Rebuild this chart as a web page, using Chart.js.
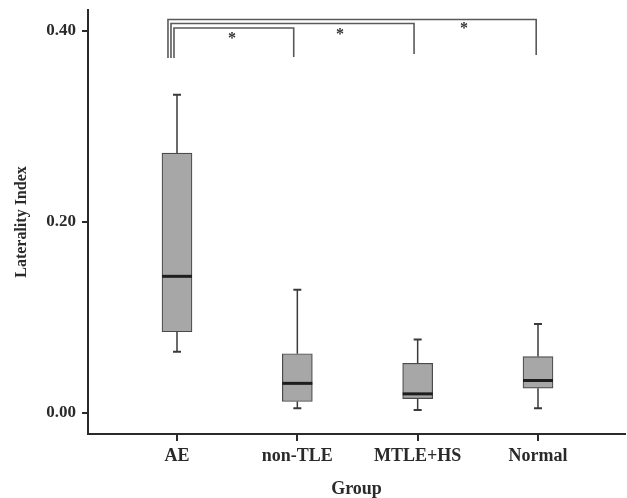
<!DOCTYPE html>
<html>
<head>
<meta charset="utf-8">
<script src="https://cdn.jsdelivr.net/npm/chart.js@4.4.0/dist/chart.umd.min.js"></script>
<style>
  body { margin: 0; background: #fff; }
  #wrap { width: 627px; height: 498px; }
</style>
</head>
<body>
<div id="wrap"><canvas id="myChart"></canvas></div>
<script>
const groups = ["AE", "non-TLE", "MTLE+HS", "Normal"];
const groupPos = [1, 2, 3, 4];
const mins = [0.064, 0.005, 0.003, 0.005];
const q1s = [0.085, 0.012, 0.015, 0.026];
const medians = [0.143, 0.031, 0.020, 0.034];
const q3s = [0.272, 0.062, 0.052, 0.059];
const maxs = [0.333, 0.129, 0.077, 0.093];
const yTicks = [0, 0.2, 0.4];

// significance brackets: AE vs each other group
const brFrom = [0.975, 0.95, 0.925];
const brTo = [1.97, 2.97, 3.985];
const brTop = [0.4028, 0.4075, 0.4117];
const brLeftEnd = [0.3714, 0.3714, 0.3714];
const brRightEnd = [0.3725, 0.3756, 0.3746];
const starX = [1.457, 2.355, 3.386];
const starY = [0.3945, 0.3986, 0.405];

const ink = "#2a2a2a";
const serif = "'Liberation Serif', 'Times New Roman', serif";

const boxPlugin = {
  id: "boxExtras",
  afterDatasetsDraw(chart) {
    const ctx = chart.ctx;
    const xs = chart.scales.x;
    const ys = chart.scales.y;
    ctx.save();
    groupPos.forEach((g, i) => {
      const cx = xs.getPixelForValue(g);
      const half = 15;
      // whiskers
      ctx.strokeStyle = "#3a3a3a";
      ctx.lineWidth = 1.5;
      ctx.beginPath();
      ctx.moveTo(cx, ys.getPixelForValue(q3s[i]));
      ctx.lineTo(cx, ys.getPixelForValue(maxs[i]));
      ctx.moveTo(cx, ys.getPixelForValue(q1s[i]));
      ctx.lineTo(cx, ys.getPixelForValue(mins[i]));
      ctx.stroke();
      ctx.lineWidth = 2;
      ctx.beginPath();
      ctx.moveTo(cx - 4, ys.getPixelForValue(maxs[i]));
      ctx.lineTo(cx + 4, ys.getPixelForValue(maxs[i]));
      ctx.moveTo(cx - 4, ys.getPixelForValue(mins[i]));
      ctx.lineTo(cx + 4, ys.getPixelForValue(mins[i]));
      ctx.stroke();
      // median
      ctx.strokeStyle = "#1e1e1e";
      ctx.lineWidth = 3;
      ctx.beginPath();
      ctx.moveTo(cx - half, ys.getPixelForValue(medians[i]));
      ctx.lineTo(cx + half, ys.getPixelForValue(medians[i]));
      ctx.stroke();
    });

    // brackets
    ctx.strokeStyle = "#5a5a5a";
    ctx.lineWidth = 1.6;
    brFrom.forEach((f, i) => {
      ctx.beginPath();
      ctx.moveTo(xs.getPixelForValue(f), ys.getPixelForValue(brLeftEnd[i]));
      ctx.lineTo(xs.getPixelForValue(f), ys.getPixelForValue(brTop[i]));
      ctx.lineTo(xs.getPixelForValue(brTo[i]), ys.getPixelForValue(brTop[i]));
      ctx.lineTo(xs.getPixelForValue(brTo[i]), ys.getPixelForValue(brRightEnd[i]));
      ctx.stroke();
    });
    ctx.fillStyle = "#333";
    ctx.font = "bold 16px " + serif;
    ctx.textAlign = "center";
    ctx.textBaseline = "middle";
    starX.forEach((sx, i) => {
      ctx.fillText("*", xs.getPixelForValue(sx), ys.getPixelForValue(starY[i]) + 3);
    });
    ctx.restore();
  }
};

new Chart("myChart", {
  type: "bar",
  data: {
    datasets: [{
      data: groupPos.map((g, i) => ({ x: g, y: [q1s[i], q3s[i]] })),
      backgroundColor: "#a7a7a7",
      borderColor: "#4a4a4a",
      borderWidth: 1.2,
      borderSkipped: false,
      barThickness: 30
    }]
  },
  options: {
    responsive: true,
    maintainAspectRatio: false,
    animation: false,
    layout: { padding: { top: 10, right: 2, left: 0, bottom: 0 } },
    plugins: { legend: { display: false }, tooltip: { enabled: false } },
    scales: {
      x: {
        type: "linear",
        offset: false,
        min: 0.2604,
        max: 4.723,
        afterBuildTicks: (s) => { s.ticks = groupPos.map(v => ({ value: v })); },
        afterFit: (s) => { s.height = 64; s.paddingLeft = 0; s.paddingRight = 0; },
        ticks: {
          callback: (v) => groups[groupPos.indexOf(v)] || "",
          color: ink,
          font: { family: serif, size: 18, weight: "bold" },
          padding: 5,
          maxRotation: 0,
          autoSkip: false
        },
        grid: { display: true, offset: false, drawOnChartArea: false, drawTicks: true, tickLength: 7, color: ink, lineWidth: 2 },
        border: { display: true, color: ink, width: 2 },
        title: {
          display: true,
          text: "Group",
          color: ink,
          font: { family: serif, size: 18, weight: "bold", lineHeight: 1 },
          padding: { top: 0, bottom: 0 }
        }
      },
      y: {
        min: -0.022,
        max: 0.4217,
        afterBuildTicks: (s) => { s.ticks = yTicks.map(v => ({ value: v })); },
        afterFit: (s) => { s.width = 88; s.paddingTop = 0; s.paddingBottom = 0; },
        ticks: {
          callback: (v) => v.toFixed(2),
          color: ink,
          font: { family: serif, size: 17, weight: "bold" },
          padding: 6
        },
        grid: { display: true, drawOnChartArea: false, drawTicks: true, tickLength: 6, color: ink, lineWidth: 2 },
        border: { display: true, color: ink, width: 2 },
        title: {
          display: true,
          text: "Laterality Index",
          color: ink,
          font: { family: serif, size: 16, weight: "bold", lineHeight: 1 },
          padding: { top: 14, bottom: 0 }
        }
      }
    }
  },
  plugins: [boxPlugin]
});
</script>
</body>
</html>
